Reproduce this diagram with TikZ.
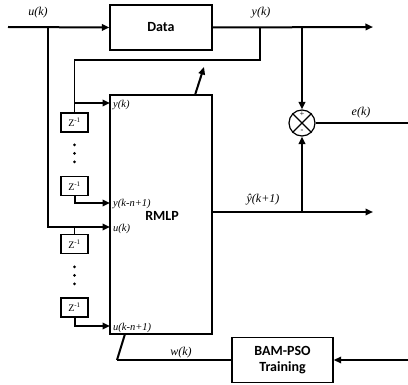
\documentclass[tikz,border=0pt]{standalone}
\usepackage{fontspec}
\setmainfont{Liberation Serif}
\newfontfamily\calib{Carlito}
\usetikzlibrary{arrows.meta}
\begin{document}
\begin{tikzpicture}[x=1pt,y=-1pt,
 thk/.style={line width=2pt},
 thn/.style={line width=1.2pt},
 arr/.style={-{Triangle[length=7.5pt,width=6.5pt]}},
 blk/.style={draw,line width=1.4pt,minimum width=102pt,minimum height=45pt,font=\calib\bfseries\fontsize{14}{16}\selectfont,align=center,inner sep=0pt},
 zbox/.style={draw,line width=1.2pt,minimum width=27pt,minimum height=19pt,inner sep=0pt,font=\fontsize{10}{11}\selectfont},
 lab/.style={font=\itshape\fontsize{12}{13}\selectfont,inner sep=0pt},
 ilab/.style={font=\itshape\fontsize{10.5}{12}\selectfont,inner sep=0pt,anchor=west},
 sgn/.style={font=\fontsize{8.5}{9}\selectfont,inner sep=0pt},
 dotn/.style={circle,fill,inner sep=0pt,minimum size=3pt}
]
\useasboundingbox (0,0) rectangle (408,385);
% blocks
\node[blk] (data) at (161,27.5) {Data};
\node[blk,minimum height=239pt] (rmlp) at (161,214.5) {};
\node[font=\calib\bfseries\fontsize{14}{16}\selectfont,inner sep=0pt] (rmlpl) at (162,216) {RMLP};
\node[blk,minimum width=101pt] (bam) at (282.5,360) {BAM-PSO\\Training};
\node[zbox] (z1) at (74.5,122.5) {Z\textsuperscript{-1}};
\node[zbox] (z2) at (74.5,186) {Z\textsuperscript{-1}};
\node[zbox] (z3) at (74.5,244) {Z\textsuperscript{-1}};
\node[zbox] (z4) at (74.5,307.5) {Z\textsuperscript{-1}};
\node[draw,circle,minimum size=26pt,line width=1.2pt,inner sep=0pt] (sum) at (302,123) {};
\draw[line width=1.1pt] (sum.north west) -- (sum.south east) (sum.north east) -- (sum.south west);
\node[sgn] (plus) at (302,114.5) {+};
\node[sgn] (minus) at (302,131.5) {-};
% dots
\foreach \yy [count=\i] in {145,153.5,162,267,275.5,284} \node[dotn] (d\i) at (74.5,\yy) {};
% coordinates
\coordinate (uin) at (8,27);
\coordinate (ubr) at (48,27);
\coordinate (yout) at (373,27);
\coordinate (ybr) at (260,27);
\coordinate (sbr) at (302,27);
\coordinate (fbc) at (74.5,60);
\coordinate (fbr) at (74.5,103);
\coordinate (in1) at (110,103);
\coordinate (in2) at (110,203);
\coordinate (in3) at (110,227);
\coordinate (in4) at (110,326);
\coordinate (z3br) at (74.5,227);
\coordinate (rout) at (212,212);
\coordinate (yhout) at (373,212);
\coordinate (yhbr) at (302,212);
\coordinate (eout) at (408,123);
\coordinate (diagA) at (195,95);
\coordinate (diagB) at (204,67);
\coordinate (wa) at (125,334);
\coordinate (wb) at (117,360);
\coordinate (bamin) at (408,360);
% connectors
\draw[thk,arr] (uin) -- (data.west);
\draw[thk,arr] (ubr) |- (in3);
\draw[thk,arr] (data.east) -- (yout);
\draw[thn] (ybr) |- (fbc) -- (z1.north);
\draw[thk,arr] (fbr) -- (in1);
\draw[thk,arr] (z2.south) |- (in2);
\draw[thn] (z3br) -- (z3.north);
\draw[thk,arr] (z4.south) |- (in4);
\draw[thk,arr] (diagA) -- (diagB);
\draw[thk,arr] (sbr) -- (sum.north);
\draw[thk,arr] (rout) -- (yhout);
\draw[thk,arr] (yhbr) -- (sum.south);
\draw[thn] (sum.east) -- (eout);
\draw[thk] (wa) -- (wb);
\draw[thn] (wb) -- (bam.west);
\draw[thk,arr] (bamin) -- (bam.east);
% labels
\node[lab] (lu) at (38,13) {u(k)};
\node[lab] (ly) at (261,13) {y(k)};
\node[lab] (le) at (361,113) {e(k)};
\node[lab] (lyh) at (263,200) {ŷ(k+1)};
\node[lab] (lw) at (181,353) {w(k)};
\node[ilab] (i1) at (113,105) {y(k)};
\node[ilab] (i2) at (113,204) {y(k-n+1)};
\node[ilab] (i3) at (113,228.5) {u(k)};
\node[ilab] (i4) at (113,328) {u(k-n+1)};
\end{tikzpicture}
\end{document}
